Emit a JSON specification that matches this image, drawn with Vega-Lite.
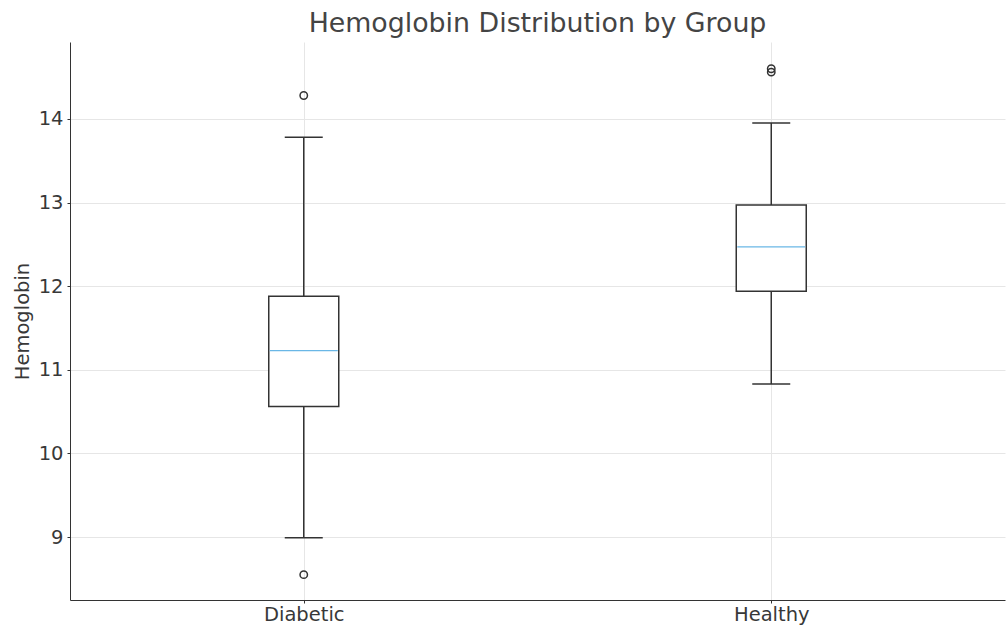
{
  "$schema": "https://vega.github.io/schema/vega-lite/v6.json",
  "autosize": {"type": "none"},
  "padding": {"left": 70, "top": 42, "right": 3, "bottom": 28},
  "width": 935,
  "height": 558,
  "background": "white",
  "title": {"text": "Hemoglobin Distribution by Group", "fontSize": 26.8, "font": "DejaVu Sans", "fontWeight": "normal", "color": "#444444", "anchor": "middle", "offset": 4},
  "datasets": {
    "stats": [
      {"group": "Diabetic", "lower": 8.99, "q1": 10.56, "median": 11.23, "q3": 11.88, "upper": 13.78},
      {"group": "Healthy", "lower": 10.83, "q1": 11.94, "median": 12.47, "q3": 12.97, "upper": 13.95}
    ],
    "outliers": [
      {"group": "Diabetic", "value": 14.28},
      {"group": "Diabetic", "value": 8.55},
      {"group": "Healthy", "value": 14.6},
      {"group": "Healthy", "value": 14.56}
    ]
  },
  "config": {
    "view": {"stroke": null},
    "axis": {"labelFont": "DejaVu Sans", "titleFont": "DejaVu Sans", "labelColor": "#383838", "titleColor": "#383838", "domainColor": "#333333", "tickColor": "#333333", "gridColor": "#e6e6e6", "labelFontSize": 19.5, "titleFontSize": 19.5, "titleFontWeight": "normal", "tickSize": 3}
  },
  "encoding": {
    "x": {"field": "group", "type": "nominal", "scale": {"type": "point", "padding": 0.5, "domain": ["Diabetic", "Healthy"]}, "axis": {"title": null, "labelAngle": 0, "grid": true, "labelPadding": 2}}
  },
  "layer": [
    {
      "data": {"name": "stats"},
      "mark": {"type": "rule", "stroke": "#333333", "strokeWidth": 1.5},
      "encoding": {
        "y": {"field": "lower", "type": "quantitative", "scale": {"domain": [8.247, 14.92], "nice": false, "zero": false}, "axis": {"title": "Hemoglobin", "values": [9, 10, 11, 12, 13, 14], "format": "d", "grid": true, "titlePadding": 6, "labelPadding": 4}},
        "y2": {"field": "upper"}
      }
    },
    {
      "data": {"name": "stats"},
      "mark": {"type": "bar", "size": 70, "fill": "white", "stroke": "#333333", "strokeWidth": 1.5},
      "encoding": {
        "y": {"field": "q1", "type": "quantitative"},
        "y2": {"field": "q3"}
      }
    },
    {
      "data": {"name": "stats"},
      "mark": {"type": "tick", "orient": "horizontal", "size": 68, "thickness": 1.2, "color": "#6ab7e6", "opacity": 1},
      "encoding": {"y": {"field": "median", "type": "quantitative"}}
    },
    {
      "data": {"name": "stats"},
      "mark": {"type": "tick", "orient": "horizontal", "size": 38, "thickness": 1.5, "color": "#333333", "opacity": 1},
      "encoding": {"y": {"field": "upper", "type": "quantitative"}}
    },
    {
      "data": {"name": "stats"},
      "mark": {"type": "tick", "orient": "horizontal", "size": 38, "thickness": 1.5, "color": "#333333", "opacity": 1},
      "encoding": {"y": {"field": "lower", "type": "quantitative"}}
    },
    {
      "data": {"name": "outliers"},
      "mark": {"type": "point", "shape": "circle", "size": 55, "filled": false, "stroke": "#333333", "strokeWidth": 1.5, "opacity": 1},
      "encoding": {"y": {"field": "value", "type": "quantitative"}}
    }
  ]
}
